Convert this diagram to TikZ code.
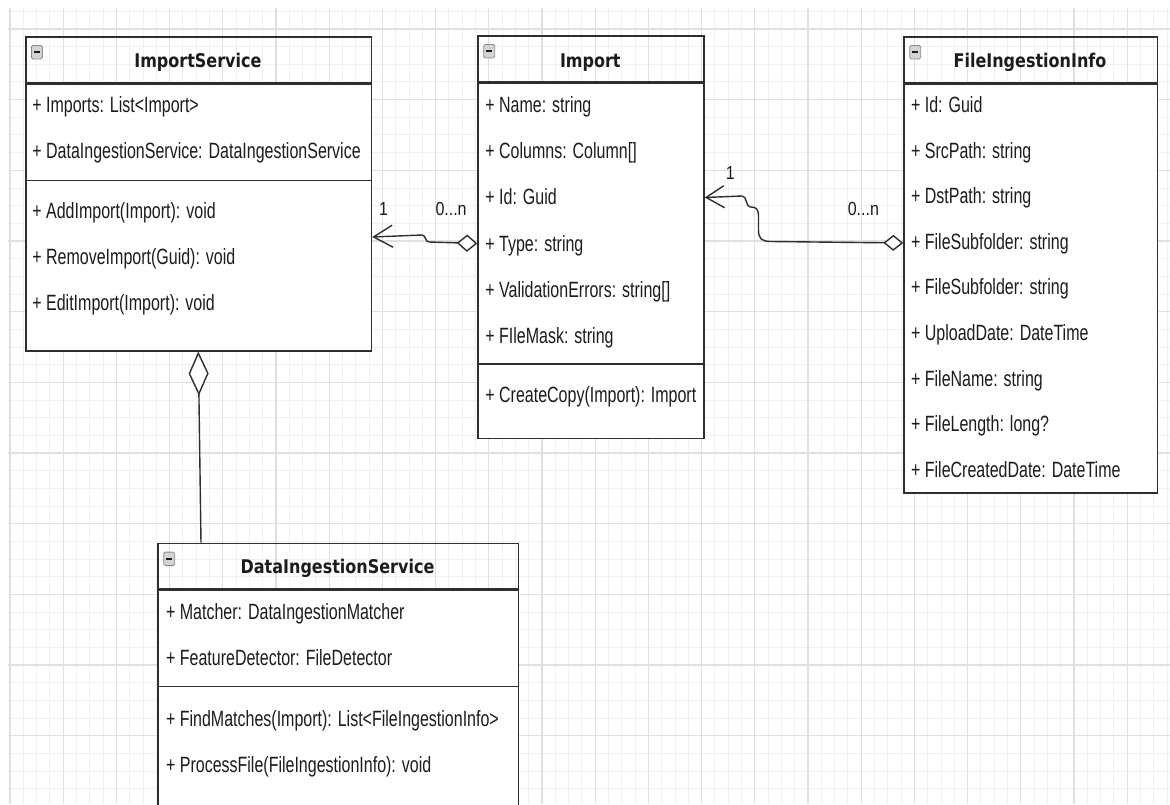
\documentclass[tikz,border=0pt]{standalone}
\usepackage{fontspec}
\usepackage{graphicx}
\setmainfont{Liberation Sans}
\newfontfamily\ttlfamily{DejaVu Sans}
\usetikzlibrary{arrows.meta}

\definecolor{linec}{HTML}{2E2E2E}
\definecolor{gridminor}{HTML}{F1F1F1}
\definecolor{gridmajor}{HTML}{E0E0E0}
\definecolor{txt}{HTML}{1C1C1C}
\definecolor{iconfill}{HTML}{D2D4D6}
\definecolor{iconline}{HTML}{8A8A8A}

% tall, narrow lettering of the class diagram
\newcommand\attrtext[1]{\scalebox{1}[1.38]{#1}}
\newcommand\ttltext[1]{\scalebox{1}[1.18]{#1}}
\newcommand\lbltext[1]{\scalebox{1}[1.18]{#1}}

\begin{document}
\begin{tikzpicture}[x=1pt,y=-1pt,
  hdr/.style={draw=linec, line width=1.5pt, anchor=north west, inner sep=0, minimum height=45.5pt},
  bodybox/.style={draw=linec, fill=white, line width=1.5pt, anchor=north west, inner sep=0},
  sepline/.style={draw=linec, line width=1.5pt},
  ttl/.style={anchor=base, inner sep=0, text=txt, font=\ttlfamily\bfseries\fontsize{16}{19}\selectfont},
  attr/.style={anchor=base west, inner sep=0, text=txt, font=\fontsize{16}{19}\selectfont},
  lbl/.style={anchor=base west, inner sep=0, text=txt, font=\fontsize{16}{19}\selectfont},
  icon/.style={anchor=north west, draw=iconline, fill=iconfill, rounded corners=1.5pt,
    minimum width=11pt, minimum height=13.5pt, inner sep=0, line width=0.8pt,
    xshift=6pt, yshift=-9pt,
    path picture={\draw[txt, line width=1.8pt]
      ([xshift=-3pt]path picture bounding box.center) -- ([xshift=3pt]path picture bounding box.center);}},
  conn/.style={draw=linec, line width=1.4pt},
]
\useasboundingbox (0,0) rectangle (1170,804);

% background grid
\foreach \k in {0,...,87}
  \draw[gridminor, line width=1pt] (10+13.3*\k,8) -- (10+13.3*\k,804);
\foreach \k in {0,...,44}
  \draw[gridminor, line width=1pt] (8,11.3+17.67*\k) -- (1170,11.3+17.67*\k);
\foreach \k in {0,...,21}
  \draw[gridmajor, line width=1.2pt] (10+53.2*\k,8) -- (10+53.2*\k,804);
\foreach \k in {0,...,10}
  \draw[gridmajor, line width=1.2pt] (8,29+70.67*\k) -- (1170,29+70.67*\k);

% ---------------- ImportService ----------------
\node[hdr, minimum width=345.7pt] (ISh) at (25,36) {};
\node[bodybox, minimum width=345.7pt, minimum height=267pt] (IS) at (ISh.south west) {};
\draw[sepline] (IS.west |- 0,180.5) -- (IS.east |- 0,180.5);
\node[icon] (ISi) at (ISh.north west) {};
\node[ttl] (ISt) at (197.9,67) {\ttltext{ImportService}};
\foreach \t [count=\i from 0] in {{+ Imports: List<Import>},{+ DataIngestionService: DataIngestionService}}
  \node[attr] (ISa\i) at (32.2,112.4+46.5*\i) {\attrtext{\t}};
\foreach \t [count=\i from 0] in {{+ AddImport(Import): void},{+ RemoveImport(Guid): void},{+ EditImport(Import): void}}
  \node[attr] (ISm\i) at (32.2,218.9+46*\i) {\attrtext{\t}};

% ---------------- Import ----------------
\node[hdr, minimum width=226pt, minimum height=46pt] (Imph) at (477.3,35) {};
\node[bodybox, minimum width=226pt, minimum height=355pt] (Imp) at (Imph.south west) {};
\draw[sepline] (Imp.west |- 0,364) -- (Imp.east |- 0,364);
\node[icon] (Impi) at (Imph.north west) {};
\node[ttl] (Impt) at (590.3,67) {\ttltext{Import}};
\foreach \t [count=\i from 0] in {{+ Name: string},{+ Columns: Column[]},{+ Id: Guid},{+ Type: string},{+ ValidationErrors: string[]},{+ FIleMask: string}}
  \node[attr] (Impa\i) at (485.2,112.4+46.2*\i) {\attrtext{\t}};
\node[attr] (Impm0) at (485.2,402.4) {\attrtext{+ CreateCopy(Import): Import}};

% ---------------- FileIngestionInfo ----------------
\node[hdr, minimum width=253.4pt] (FIIh) at (903.3,36) {};
\node[bodybox, minimum width=253.4pt, minimum height=409.2pt] (FII) at (FIIh.south west) {};
\node[icon] (FIIi) at (FIIh.north west) {};
\node[ttl] (FIIt) at (1030,67.5) {\ttltext{FileIngestionInfo}};
\foreach \t [count=\i from 0] in {{+ Id: Guid},{+ SrcPath: string},{+ DstPath: string},{+ FileSubfolder: string},{+ FileSubfolder: string},{+ UploadDate: DateTime},{+ FileName: string},{+ FileLength: long?},{+ FileCreatedDate: DateTime}}
  \node[attr] (FIIa\i) at (910.9,112.4+45.6*\i) {\attrtext{\t}};

% ---------------- DataIngestionService ----------------
\node[hdr, minimum width=360.4pt, minimum height=45.6pt] (DISh) at (157.3,542.7) {};
\node[bodybox, minimum width=360.4pt, minimum height=240pt] (DIS) at (DISh.south west) {};
\draw[sepline] (DIS.west |- 0,686.5) -- (DIS.east |- 0,686.5);
\node[icon] (DISi) at (DISh.north west) {};
\node[ttl] (DISt) at (337.5,573.5) {\ttltext{DataIngestionService}};
\foreach \t [count=\i from 0] in {{+ Matcher: DataIngestionMatcher},{+ FeatureDetector: FileDetector}}
  \node[attr] (DISa\i) at (165.9,619.4+46*\i) {\attrtext{\t}};
\foreach \t [count=\i from 0] in {{+ FindMatches(Import): List<FileIngestionInfo>},{+ ProcessFile(FileIngestionInfo): void}}
  \node[attr] (DISm\i) at (165.9,726.4+46*\i) {\attrtext{\t}};

% ---------------- associations ----------------
\draw[conn, {Diamond[fill=white,length=20.5pt,width=17.4pt]}-{Straight Barb[length=19pt,width=22pt]}]
  ([yshift=-161pt]Imp.north west) -- (429,242)
  .. controls (425,242) and (426,235) .. (422,235)
  -- ([yshift=-154pt]IS.north east);

\draw[conn, {Diamond[fill=white,length=20pt,width=16pt]}-{Straight Barb[length=18pt,width=22pt]}]
  ([yshift=-160pt]FII.north west) -- (771,241.5)
  .. controls (762,241.5) and (758.5,239) .. (758.5,230)
  -- (758.5,216)
  .. controls (758.5,209) and (756,207) .. (751,207)
  -- (750,207)
  .. controls (746,207) and (747,196) .. (742,196)
  -- ([yshift=-115pt]Imp.north east);

\draw[conn, {Diamond[fill=white,length=44pt,width=20pt]}-]
  ([xshift=173.3pt]IS.south west) -- ([xshift=43.7pt]DISh.north west);

% multiplicities
\node[lbl] (m1a) at (379,215) {\lbltext{1}};
\node[lbl] (m1b) at (435.3,215) {\lbltext{0...n}};
\node[lbl] (m2a) at (725.6,179.3) {\lbltext{1}};
\node[lbl] (m2b) at (847.6,215) {\lbltext{0...n}};
\end{tikzpicture}
\end{document}
